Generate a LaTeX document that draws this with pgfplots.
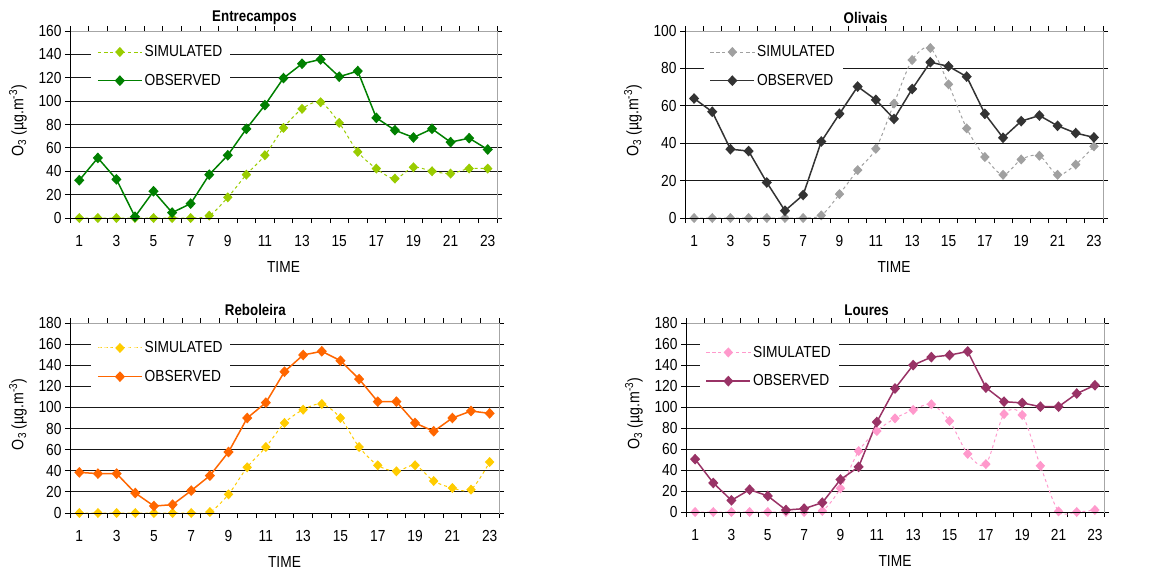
\documentclass[border=0pt]{standalone}
\usepackage{fontspec}
\setmainfont{Liberation Sans}[FakeStretch=0.86]
\usepackage{pgfplots}
\usepackage{pgfplotstable}
\pgfplotsset{compat=1.18}

\definecolor{entobs}{HTML}{008000}
\definecolor{entsim}{HTML}{99CC00}
\definecolor{olobs}{HTML}{333333}
\definecolor{olsim}{HTML}{A0A0A0}
\definecolor{reobs}{HTML}{FF6600}
\definecolor{resim}{HTML}{FFCC00}
\definecolor{loobs}{HTML}{993366}
\definecolor{losim}{HTML}{FF99CC}

\pgfplotstableread{
t sim obs
1 0 32.3
2 0 51.4
3 0 33.1
4 0 1.1
5 0 22.9
6 0 4.6
7 0 12.3
8 2.0 37.1
9 17.7 53.7
10 37.1 76.3
11 53.7 96.6
12 77.1 119.7
13 93.4 132.0
14 99.1 135.7
15 81.4 120.9
16 56.6 125.7
17 42.3 85.7
18 33.7 75.1
19 43.4 68.9
20 40.0 76.3
21 38.0 64.9
22 42.3 68.3
23 42.3 58.6
}\entre

\pgfplotstableread{
t sim obs
1 0 63.9
2 0 56.8
3 0 36.8
4 0 35.8
5 0 19.0
6 0 3.9
7 0 12.3
8 1.4 40.9
9 12.8 55.7
10 25.6 70.3
11 37.0 63.2
12 61.2 53.0
13 84.5 69.0
14 90.9 83.3
15 71.5 81.1
16 47.9 75.6
17 32.6 55.7
18 23.1 42.9
19 31.3 51.8
20 33.3 54.8
21 23.1 49.3
22 28.6 45.4
23 38.3 43.1
}\olivais

\pgfplotstableread{
t sim obs
1 0 38.5
2 0 37.3
3 0 37.3
4 0 18.9
5 0 6.6
6 0 7.9
7 0 21.2
8 0.9 35.4
9 17.7 57.8
10 43.3 90.0
11 62.5 104.5
12 85.3 133.9
13 97.9 149.7
14 103.3 153.2
15 90.0 144.3
16 62.5 126.9
17 45.2 105.5
18 39.5 105.5
19 45.2 85.3
20 30.3 77.4
21 23.7 90.0
22 22.1 96.6
23 48.3 94.4
}\reboleira

\pgfplotstableread{
t sim obs
1 0 50.3
2 0 27.7
3 0 11.1
4 0 21.3
5 0 15.3
6 0 1.9
7 0 3.2
8 1.0 8.9
9 22.6 30.9
10 58.0 43.0
11 77.1 85.7
12 89.2 117.6
13 97.2 139.9
14 102.6 147.5
15 86.7 149.4
16 55.4 152.9
17 45.6 118.5
18 93.3 105.1
19 92.4 103.9
20 44.0 100.3
21 0.6 100.3
22 0 112.8
23 1.9 120.7
}\loures

\pgfplotsset{
  panel/.style={
    scale only axis, xmin=0.5, xmax=23.5, ymin=0, clip=false,
    xtick={1,3,...,23}, minor xtick={0.5,1.5,...,23.5},
    major x tick style={draw=none},
    tick align=outside, major tick length=5pt, minor tick length=5pt,
    tick style={black, line width=0.8pt},
    ymajorgrids, major grid style={black!90, line width=0.8pt},
    axis line style={gray!70, line width=0.8pt},
    /pgf/number format/assume math mode=true,
    tick label style={font=\fontsize{16}{19}\selectfont},
    xticklabel style={yshift=-9pt},
    title style={font=\bfseries\fontsize{15.5}{18}\selectfont, anchor=center, at={(axis description cs:0.432,1)}, yshift=7pt},
    xlabel={TIME},
    xlabel style={font=\fontsize{16}{19}\selectfont, at={(axis description cs:0.5,0)}, anchor=center, yshift=-49pt},
    ylabel={O\textsubscript{3} (µg.m\textsuperscript{-3})},
    ylabel style={font=\fontsize{16.5}{19}\selectfont, at={(axis description cs:0,0.52)}, anchor=center, yshift=52pt, xshift=0pt},
    legend cell align=left,
    legend style={draw=none, fill=white, font=\fontsize{16}{19}\selectfont, anchor=north west, row sep=12pt, inner xsep=6pt},
    legend image code/.code={\draw[mark repeat=2,mark phase=2,##1] plot coordinates {(0pt,0pt) (22pt,0pt) (44pt,0pt)};},
    after end axis/.code={\draw[black, line width=1pt] (rel axis cs:0,1) -- (rel axis cs:0,0) -- (rel axis cs:1,0);},
  },
  simstyle/.style={smooth, line width=1pt, dash pattern=on 3pt off 3pt, mark=diamond*, mark size=4.3pt, mark options={solid, xscale=1.25, fill=#1, draw=#1}, color=#1},
  obsstyle/.style={sharp plot, line width=1.5pt, mark=diamond*, mark size=4.3pt, mark options={solid, xscale=1.25, fill=#1, draw=#1}, color=#1},
}

\begin{document}
\begin{tikzpicture}
\path[use as bounding box] (0pt,0pt) rectangle (1171pt,-576pt);

\begin{axis}[panel, at={(70pt,-218pt)}, anchor=south west, width=427pt, height=187pt,
  ymax=160, ytick={0,20,...,160}, title={Entrecampos},
  legend style={at={(axis description cs:0.049,0.944)}}]
\addplot[simstyle=entsim] table[x=t,y=sim]{\entre};
\addlegendentry{SIMULATED}
\addplot[obsstyle=entobs] table[x=t,y=obs]{\entre};
\addlegendentry{OBSERVED}
\end{axis}

\begin{axis}[panel, at={(685pt,-218pt)}, anchor=south west, width=418pt, height=187pt,
  ymax=100, ytick={0,20,...,100}, title={Olivais},
  legend style={at={(axis description cs:0.044,0.944)}}]
\addplot[simstyle=olsim] table[x=t,y=sim]{\olivais};
\addlegendentry{SIMULATED}
\addplot[obsstyle=olobs] table[x=t,y=obs]{\olivais};
\addlegendentry{OBSERVED}
\end{axis}

\begin{axis}[panel, at={(70pt,-513pt)}, anchor=south west, width=429pt, height=190pt,
  ymax=180, ytick={0,20,...,180}, title={Reboleira},
  legend style={at={(axis description cs:0.049,0.924)}}]
\addplot[simstyle=resim] table[x=t,y=sim]{\reboleira};
\addlegendentry{SIMULATED}
\addplot[obsstyle=reobs] table[x=t,y=obs]{\reboleira};
\addlegendentry{OBSERVED}
\end{axis}

\begin{axis}[panel, at={(686pt,-512pt)}, anchor=south west, width=418pt, height=189pt,
  ymax=180, ytick={0,20,...,180}, title={Loures},
  legend style={at={(axis description cs:0.032,0.90)}}]
\addplot[simstyle=losim] table[x=t,y=sim]{\loures};
\addlegendentry{SIMULATED}
\addplot[obsstyle=loobs] table[x=t,y=obs]{\loures};
\addlegendentry{OBSERVED}
\end{axis}
\end{tikzpicture}
\end{document}
